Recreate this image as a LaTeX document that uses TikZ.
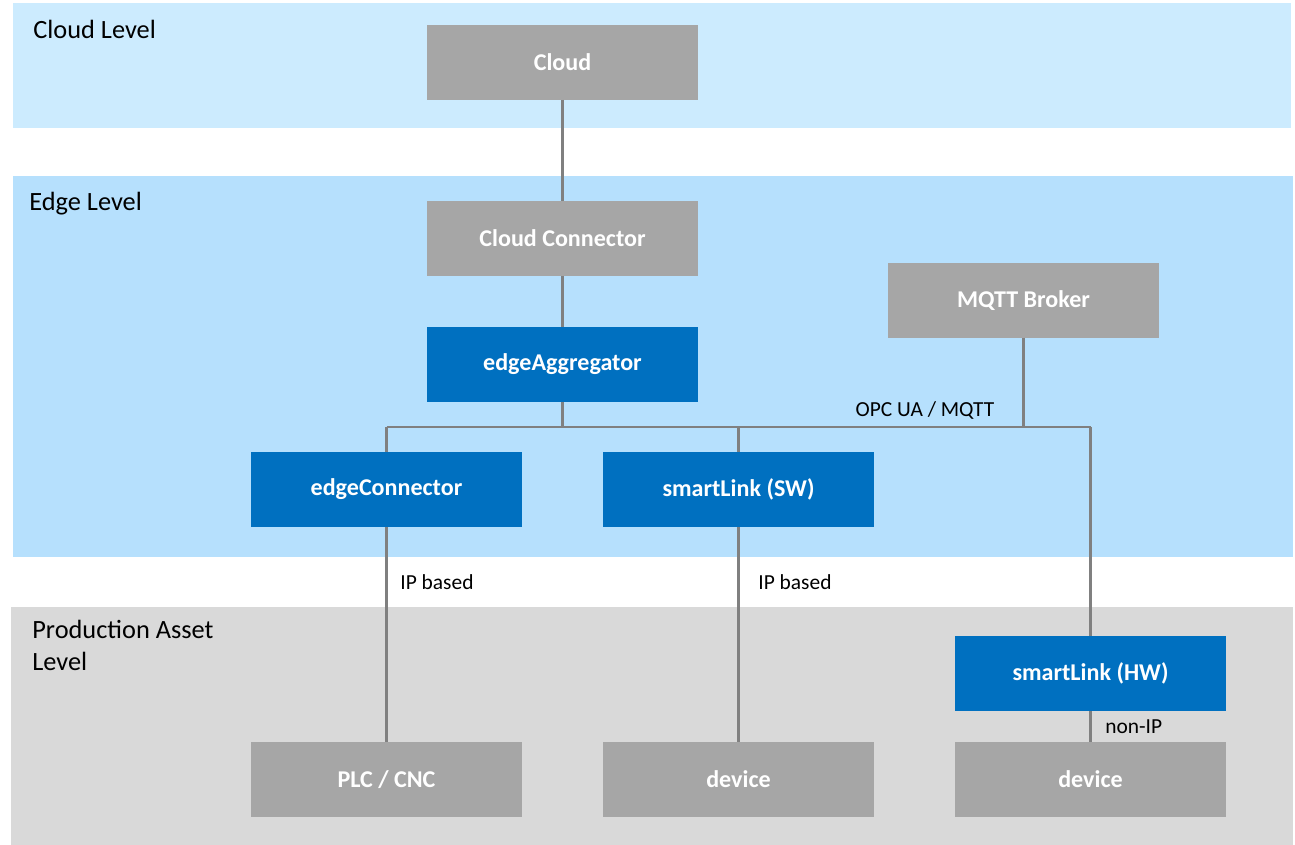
\documentclass[tikz,border=0pt]{standalone}
\usepackage{fontspec}
\setmainfont{Carlito}
\definecolor{cloudbg}{HTML}{CCEBFE}
\definecolor{edgebg}{HTML}{B6E0FD}
\definecolor{prodbg}{HTML}{D9D9D9}
\definecolor{boxgray}{HTML}{A6A6A6}
\definecolor{boxblue}{HTML}{0070C0}
\definecolor{linegray}{HTML}{808080}
\begin{document}
\begin{tikzpicture}[x=0.02cm, y=-0.02cm, line join=round,
	graybox/.style={fill=boxgray, text=white, font=\fontsize{13.7}{16}\selectfont\bfseries, minimum width=5.42cm, minimum height=1.5cm, inner sep=0pt, outer sep=0pt},
	bluebox/.style={graybox, fill=boxblue},
	link/.style={draw=linegray, line width=1.5pt},
	lbl/.style={font=\fontsize{12.2}{14}\selectfont, inner sep=0pt},
	level/.style={font=\fontsize{15}{18}\selectfont, inner sep=0pt, align=left}]
	\useasboundingbox (0,0) rectangle (1295,845);
	% levels
	\fill[cloudbg] (13,3) rectangle (1291,128);
	\fill[edgebg] (13,176) rectangle (1293,557);
	\fill[prodbg] (11,607) rectangle (1293,845);
	\node[level, anchor=west] (cloudlvl) at (33,29) {Cloud Level};
	\node[level, anchor=west] (edgelvl) at (29,204) {Edge Level};
	\node[level, anchor=north west] (prodlvl) at (32,620) {Production Asset\\Level};
	% boxes
	\node[graybox] (cloud) at (562.5,62.5) {Cloud};
	\node[graybox] (cconn) at (562.5,238.5) {Cloud Connector};
	\node[graybox] (mqtt) at (1023.5,300.5) {MQTT Broker};
	\node[bluebox] (agg) at (562.5,364.5) {edgeAggregator};
	\node[bluebox] (econn) at (386.5,489.5) {edgeConnector};
	\node[bluebox] (swlink) at (738.5,489.5) {smartLink (SW)};
	\node[bluebox] (hwlink) at (1090.5,673.5) {smartLink (HW)};
	\node[graybox] (plc) at (386.5,779.5) {PLC / CNC};
	\node[graybox] (dev1) at (738.5,779.5) {device};
	\node[graybox] (dev2) at (1090.5,779.5) {device};
	% bus
	\coordinate (busL) at (386.5,427);
	\coordinate (busR) at (1090.5,427);
	\draw[link] (cloud) -- (cconn);
	\draw[link] (cconn) -- (agg);
	\draw[link] (agg.south) -- (agg.south |- busL);
	\draw[link] (busL) -- (busR);
	\draw[link] (mqtt.south) -- (mqtt.south |- busL);
	\draw[link] (busL) -- (econn.north);
	\draw[link] (swlink.north |- busL) -- (swlink.north);
	\draw[link] (busR) -- (hwlink.north);
	\draw[link] (econn) -- (plc);
	\draw[link] (swlink) -- (dev1);
	\draw[link] (hwlink) -- (dev2);
	% labels
	\node[lbl] (opc) at (925,410) {OPC UA / MQTT};
	\node[lbl, anchor=west] (ip1) at (400,582) {IP based};
	\node[lbl, anchor=west] (ip2) at (758,582) {IP based};
	\node[lbl, anchor=west] (nonip) at (1105,727) {non-IP};
\end{tikzpicture}
\end{document}
